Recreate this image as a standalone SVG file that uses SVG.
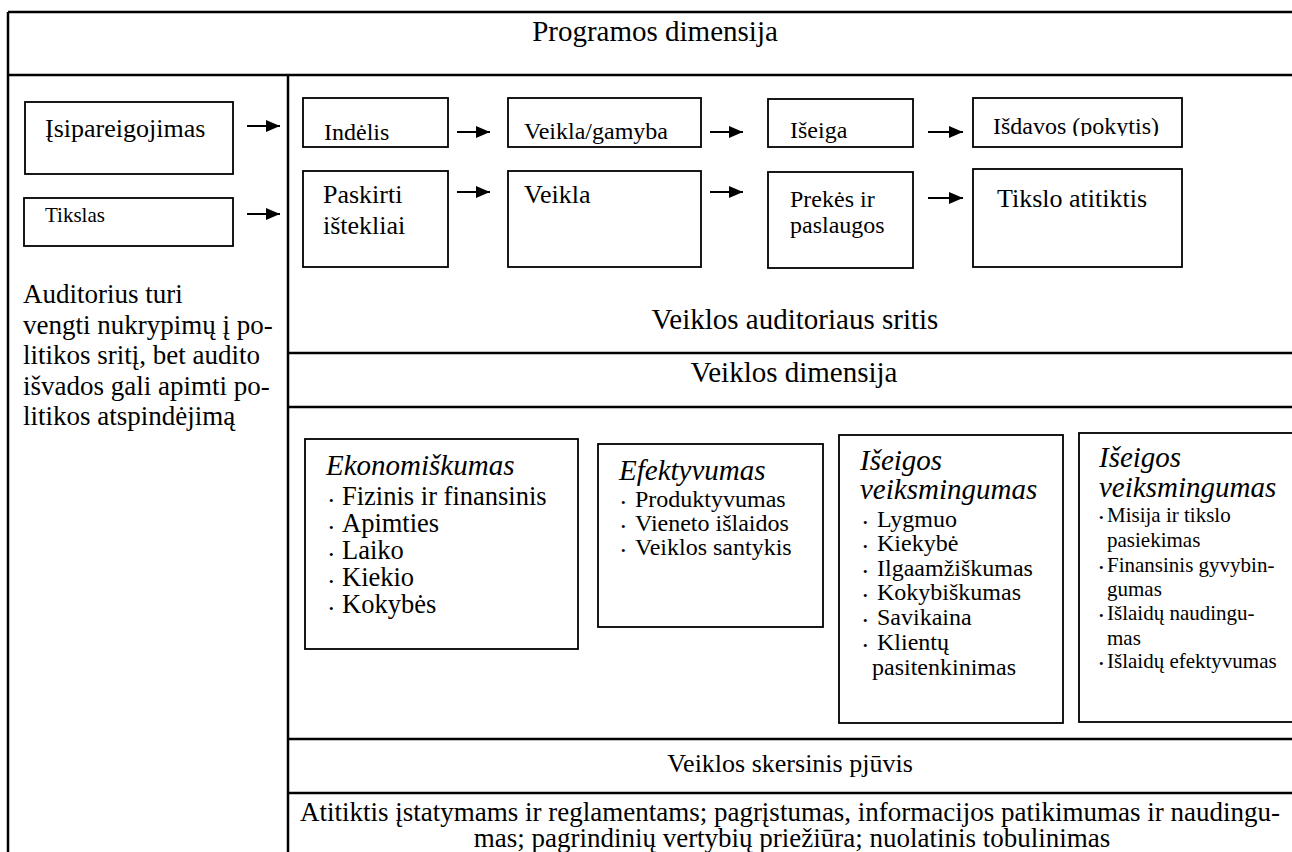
<svg xmlns="http://www.w3.org/2000/svg" width="1292" height="852" viewBox="0 0 1292 852">
<style>
text{font-family:"Liberation Serif","Times New Roman",serif;fill:#000}
.frame{stroke:#000;stroke-width:2.5;fill:none}
.box{stroke:#000;stroke-width:1.8;fill:#fff}
.arr{stroke:#000;stroke-width:1.8;fill:none}
.s29{font-size:29px}
.s27{font-size:27px}
.s26{font-size:26px}
.s24{font-size:24px}
.s21{font-size:21px}
.it{font-style:italic}
.c{text-anchor:middle}
.b{font-size:13px}
</style>
<defs>
<marker id="ah" markerWidth="14" markerHeight="12" refX="14" refY="6" orient="auto" markerUnits="userSpaceOnUse">
<path d="M0,0 L14,6 L0,12 Z" fill="#000"/>
</marker>
<clipPath id="clipIsd"><rect x="973" y="98" width="209" height="38"/></clipPath>
</defs>

<g id="frame">
<line class="frame" x1="8" y1="12" x2="1292" y2="12"/>
<line class="frame" x1="8" y1="12" x2="8" y2="852"/>
<line class="frame" x1="8" y1="75" x2="1292" y2="75"/>
<line class="frame" x1="288" y1="75" x2="288" y2="852"/>
<line class="frame" x1="288" y1="353" x2="1292" y2="353"/>
<line class="frame" x1="288" y1="407" x2="1292" y2="407"/>
<line class="frame" x1="288" y1="739" x2="1292" y2="739"/>
<line class="frame" x1="288" y1="793" x2="1292" y2="793"/>
</g>

<g id="labels">
<text class="s29 c" x="655" y="41">Programos dimensija</text>
<text class="s29 c" x="795" y="329">Veiklos auditoriaus sritis</text>
<text class="s29 c" x="794" y="382">Veiklos dimensija</text>
<text class="s26 c" x="790" y="772">Veiklos skersinis pjūvis</text>
<text class="s27 c" x="790" y="821">Atitiktis įstatymams ir reglamentams; pagrįstumas, informacijos patikimumas ir naudingu-</text>
<text class="s27 c" x="792" y="847">mas; pagrindinių vertybių priežiūra; nuolatinis tobulinimas</text>
</g>

<g id="note">
<text class="s27" x="23"><tspan x="23" y="303">Auditorius turi</tspan><tspan x="23" y="334">vengti nukrypimų į po-</tspan><tspan x="23" y="364">litikos sritį, bet audito</tspan><tspan x="23" y="395">išvados gali apimti po-</tspan><tspan x="23" y="425">litikos atspindėjimą</tspan></text>
</g>

<g id="isipareigojimas"><rect class="box" x="25" y="102" width="208" height="72"/><text class="s26" x="45" y="137">Įsipareigojimas</text></g>
<g id="tikslas"><rect class="box" x="24" y="198" width="209" height="48"/><text class="s21" x="45" y="222">Tikslas</text></g>

<g id="indelis"><rect class="box" x="303" y="98" width="145" height="49"/><text class="s24" x="324" y="140">Indėlis</text></g>
<g id="veikla-gamyba"><rect class="box" x="508" y="98" width="193" height="49"/><text class="s24" x="524" y="139">Veikla/gamyba</text></g>
<g id="iseiga"><rect class="box" x="768" y="99" width="145" height="48"/><text class="s24" x="790" y="138">Išeiga</text></g>
<g id="isdavos"><rect class="box" x="973" y="98" width="209" height="49"/><text class="s24" x="993" y="134" clip-path="url(#clipIsd)">Išdavos (pokytis)</text></g>

<g id="paskirti"><rect class="box" x="303" y="171" width="145" height="96"/><text class="s26" x="323"><tspan x="323" y="203">Paskirti</tspan><tspan x="323" y="234">ištekliai</tspan></text></g>
<g id="veikla"><rect class="box" x="508" y="171" width="193" height="96"/><text class="s26" x="524" y="203">Veikla</text></g>
<g id="prekes"><rect class="box" x="768" y="172" width="145" height="96"/><text class="s24" x="790"><tspan x="790" y="207">Prekės ir</tspan><tspan x="790" y="233">paslaugos</tspan></text></g>
<g id="tikslo-atitiktis"><rect class="box" x="973" y="169" width="209" height="98"/><text class="s26" x="997" y="207">Tikslo atitiktis</text></g>

<g id="ekonomiskumas"><rect class="box" x="305" y="439" width="273" height="210"/>
<text class="s29 it" x="326" y="475">Ekonomiškumas</text>
<text style="font-size:26.5px"><tspan class="b" x="329" y="505">•</tspan><tspan x="342" y="505">Fizinis ir finansinis</tspan>
<tspan class="b" x="329" y="532">•</tspan><tspan x="342" y="532">Apimties</tspan>
<tspan class="b" x="329" y="559">•</tspan><tspan x="342" y="559">Laiko</tspan>
<tspan class="b" x="329" y="586">•</tspan><tspan x="342" y="586">Kiekio</tspan>
<tspan class="b" x="329" y="613">•</tspan><tspan x="342" y="613">Kokybės</tspan></text></g>

<g id="efektyvumas"><rect class="box" x="598" y="444" width="225" height="183"/>
<text class="s29 it" x="619" y="480">Efektyvumas</text>
<text class="s24"><tspan class="b" x="621" y="507">•</tspan><tspan x="635" y="507">Produktyvumas</tspan>
<tspan class="b" x="621" y="531">•</tspan><tspan x="635" y="531">Vieneto išlaidos</tspan>
<tspan class="b" x="621" y="555">•</tspan><tspan x="635" y="555">Veiklos santykis</tspan></text></g>

<g id="iseigos-veiksmingumas-1"><rect class="box" x="839" y="435" width="224" height="288"/>
<text class="s29 it"><tspan x="860" y="470">Išeigos</tspan><tspan x="860" y="499">veiksmingumas</tspan></text>
<text class="s24"><tspan class="b" x="863" y="527">•</tspan><tspan x="877" y="527">Lygmuo</tspan>
<tspan class="b" x="863" y="551">•</tspan><tspan x="877" y="551">Kiekybė</tspan>
<tspan class="b" x="863" y="576">•</tspan><tspan x="877" y="576">Ilgaamžiškumas</tspan>
<tspan class="b" x="863" y="600">•</tspan><tspan x="877" y="600">Kokybiškumas</tspan>
<tspan class="b" x="863" y="625">•</tspan><tspan x="877" y="625">Savikaina</tspan>
<tspan class="b" x="863" y="650">•</tspan><tspan x="877" y="650">Klientų</tspan>
<tspan x="872" y="675">pasitenkinimas</tspan></text></g>

<g id="iseigos-veiksmingumas-2"><rect class="box" x="1079" y="433" width="230" height="289"/>
<text class="s29 it"><tspan x="1099" y="467">Išeigos</tspan><tspan x="1099" y="497">veiksmingumas</tspan></text>
<text class="s21"><tspan class="b" x="1099" y="522">•</tspan><tspan x="1107" y="522">Misija ir tikslo</tspan>
<tspan x="1107" y="547">pasiekimas</tspan>
<tspan class="b" x="1099" y="572">•</tspan><tspan x="1107" y="572">Finansinis gyvybin-</tspan>
<tspan x="1107" y="596">gumas</tspan>
<tspan class="b" x="1099" y="620">•</tspan><tspan x="1107" y="620">Išlaidų naudingu-</tspan>
<tspan x="1107" y="645">mas</tspan>
<tspan class="b" x="1099" y="668">•</tspan><tspan x="1107" y="668">Išlaidų efektyvumas</tspan></text></g>

<g id="connectors">
<line class="arr" x1="247" y1="126" x2="280" y2="126" marker-end="url(#ah)"/>
<line class="arr" x1="247" y1="214" x2="280" y2="214" marker-end="url(#ah)"/>
<line class="arr" x1="457" y1="132" x2="490" y2="132" marker-end="url(#ah)"/>
<line class="arr" x1="710" y1="132" x2="743" y2="132" marker-end="url(#ah)"/>
<line class="arr" x1="928" y1="132" x2="963" y2="132" marker-end="url(#ah)"/>
<line class="arr" x1="457" y1="192" x2="490" y2="192" marker-end="url(#ah)"/>
<line class="arr" x1="710" y1="192" x2="743" y2="192" marker-end="url(#ah)"/>
<line class="arr" x1="928" y1="198" x2="963" y2="198" marker-end="url(#ah)"/>
</g>
</svg>
